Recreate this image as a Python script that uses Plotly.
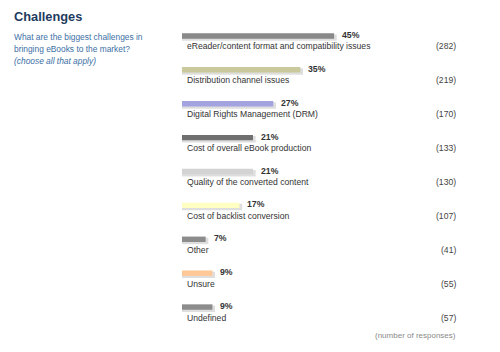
import plotly.graph_objects as go

categories = [
    "eReader/content format and compatibility issues",
    "Distribution channel issues",
    "Digital Rights Management (DRM)",
    "Cost of overall eBook production",
    "Quality of the converted content",
    "Cost of backlist conversion",
    "Other",
    "Unsure",
    "Undefined",
]
percents = [45, 35, 27, 21, 21, 17, 7, 9, 9]
responses = [282, 219, 170, 133, 130, 107, 41, 55, 57]
bar_colors = ["#898989", "#c9c99b", "#a3a3df", "#6f6f6f", "#d3d3d3",
              "#ffffc4", "#8c8c8c", "#ffc896", "#8c8c8c"]

FONT = "Arial, Liberation Sans, sans-serif"
idx = list(range(len(categories)))

fig = go.Figure()
# soft shadow
fig.add_trace(go.Bar(
    x=[p + 0.8 for p in percents], y=[i + 0.05 for i in idx], orientation="h",
    marker=dict(color="rgba(0,0,0,0.13)", line=dict(width=0)),
    width=0.19, hoverinfo="skip", showlegend=False,
))
fig.add_trace(go.Bar(
    x=percents, y=idx, orientation="h",
    marker=dict(color=bar_colors, line=dict(width=0)),
    width=0.16, showlegend=False,
))

ann = []
for i, (c, p, r) in enumerate(zip(categories, percents, responses)):
    ann.append(dict(x=p, y=i, xref="x", yref="y", text=f"<b>{p}%</b>",
                    xanchor="left", yanchor="middle", xshift=6, yshift=1,
                    showarrow=False, font=dict(family=FONT, size=8.7, color="#333333")))
    ann.append(dict(x=0, y=i, xref="x", yref="y", text=c,
                    xanchor="left", yanchor="middle", xshift=3, yshift=-10.5,
                    showarrow=False, font=dict(family=FONT, size=8.6, color="#333333")))
    ann.append(dict(x=81.7, y=i, xref="x", yref="y", text=f"({r})",
                    xanchor="right", yanchor="middle", yshift=-10.5,
                    showarrow=False, font=dict(family=FONT, size=8.6, color="#444444")))

ml, mr, mt, mb = 182, 30, 18.5, 27.5
W, H = 500, 352
pw, ph = W - ml - mr, H - mt - mb

def px(x):
    return (x - ml) / pw

def py(y):
    return (H - y - mb) / ph

ann.append(dict(x=px(458), y=py(336), xref="paper", yref="paper",
                text="(number of responses)",
                xanchor="right", yanchor="middle", showarrow=False,
                font=dict(family=FONT, size=8, color="#8a8a8a")))

ann.append(dict(x=px(12), y=py(16), xref="paper", yref="paper", text="<b>Challenges</b>",
                showarrow=False, xanchor="left", yanchor="middle",
                font=dict(family=FONT, size=12.8, color="#1f3c60")))
sub = ["What are the biggest challenges in", "bringing eBooks to the market?",
       "<i>(choose all that apply)</i>"]
for k, s in enumerate(sub):
    ann.append(dict(x=px(12), y=py(36.5 + 12.3 * k), xref="paper", yref="paper", text=s,
                    showarrow=False, xanchor="left", yanchor="middle",
                    font=dict(family=FONT, size=8.4, color="#3b6fa6")))

fig.update_layout(
    width=W, height=H,
    margin=dict(l=ml, r=mr, t=mt, b=mb, pad=0),
    paper_bgcolor="white", plot_bgcolor="white",
    barmode="overlay",
    xaxis=dict(range=[0, pw / 3.38], visible=False, fixedrange=True),
    yaxis=dict(range=[8.5, -0.5], visible=False, fixedrange=True),
    annotations=ann,
)

fig.write_html("out.html")
